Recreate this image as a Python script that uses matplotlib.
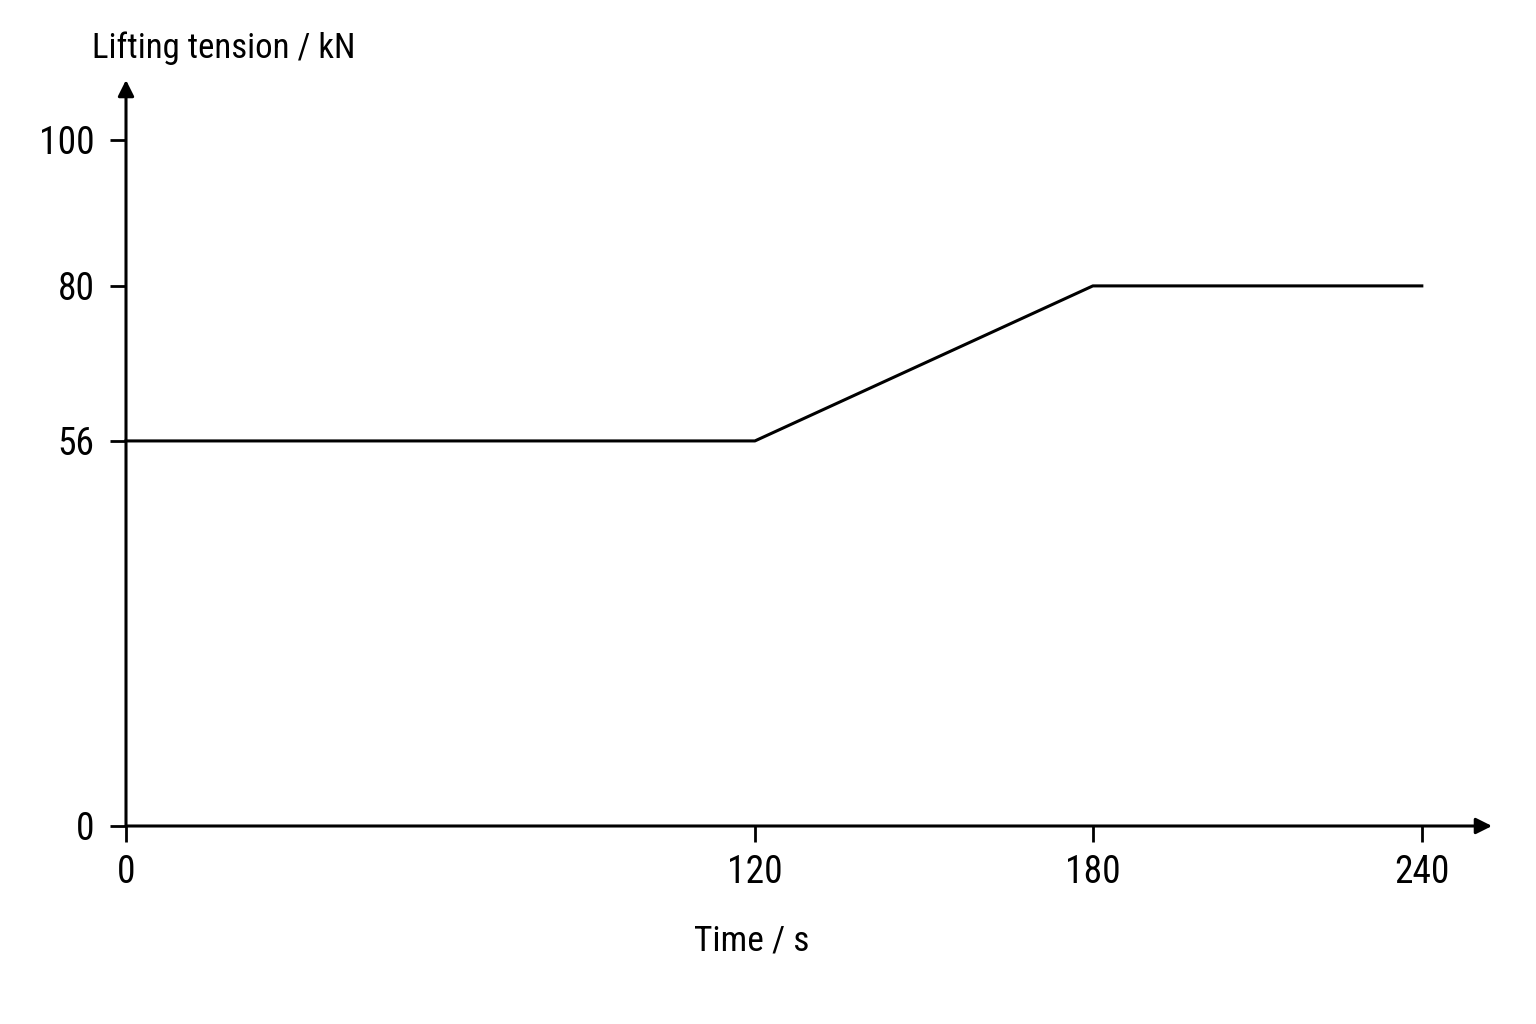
import matplotlib.pyplot as plt
import numpy as np

# Data
time_s = [0, 120, 180, 240]
tension_kn = [56, 56, 80, 80]
x_ticks = [0, 120, 180, 240]
y_ticks = [0, 56, 80, 100]

plt.rcParams['font.family'] = ['Roboto Condensed', 'Liberation Sans', 'DejaVu Sans']


def piecewise(xp, fp):
    # linear between anchors, linear extrapolation outside
    xp = np.asarray(xp, float)
    fp = np.asarray(fp, float)

    def f(v):
        v = np.asarray(v, float)
        out = np.interp(v, xp, fp)
        lo = fp[0] + (v - xp[0]) * (fp[1] - fp[0]) / (xp[1] - xp[0])
        hi = fp[-1] + (v - xp[-1]) * (fp[-1] - fp[-2]) / (xp[-1] - xp[-2])
        out = np.where(v < xp[0], lo, out)
        out = np.where(v > xp[-1], hi, out)
        return out
    return f


# the original drawing has slightly uneven tick spacing
x_px = [126, 755, 1093, 1422]
y_px = [198, 583, 738, 884]

fig = plt.figure(figsize=(15.36, 10.24), dpi=100)
ax = fig.add_axes([126 / 1536, 198 / 1024, (1492 - 126) / 1536, (944 - 198) / 1024])

ax.set_xscale('function', functions=(piecewise(x_ticks, x_px), piecewise(x_px, x_ticks)))
ax.set_yscale('function', functions=(piecewise(y_ticks, y_px), piecewise(y_px, y_ticks)))

ax.plot(time_s, tension_kn, color='black', lw=2.2, clip_on=False)

ax.set_xlim(0, 252.8)
ax.set_ylim(0, 108.2)

for s in ax.spines.values():
    s.set_visible(False)

arrow = dict(arrowstyle='-|>', mutation_scale=24, lw=2.2, color='black',
             shrinkA=0, shrinkB=0)
ax.annotate('', xy=(1, 0), xytext=(0, 0), xycoords='axes fraction',
            textcoords='axes fraction', arrowprops=arrow)
ax.annotate('', xy=(0, 1), xytext=(0, 0), xycoords='axes fraction',
            textcoords='axes fraction', arrowprops=arrow)

ax.set_xticks(x_ticks)
ax.set_yticks(y_ticks)
ax.tick_params(direction='out', length=11.5, width=2.0, labelsize=27)
ax.tick_params(axis='x', pad=9)
ax.tick_params(axis='y', pad=11)
ax.minorticks_off()

fig.text(92 / 1536, 1 - 48 / 1024, 'Lifting tension / kN', fontsize=25,
         ha='left', va='center')
fig.text(752 / 1536, 1 - 941 / 1024, 'Time / s', fontsize=25.5,
         ha='center', va='center')

fig.savefig('out.png', dpi=100, facecolor='white')
